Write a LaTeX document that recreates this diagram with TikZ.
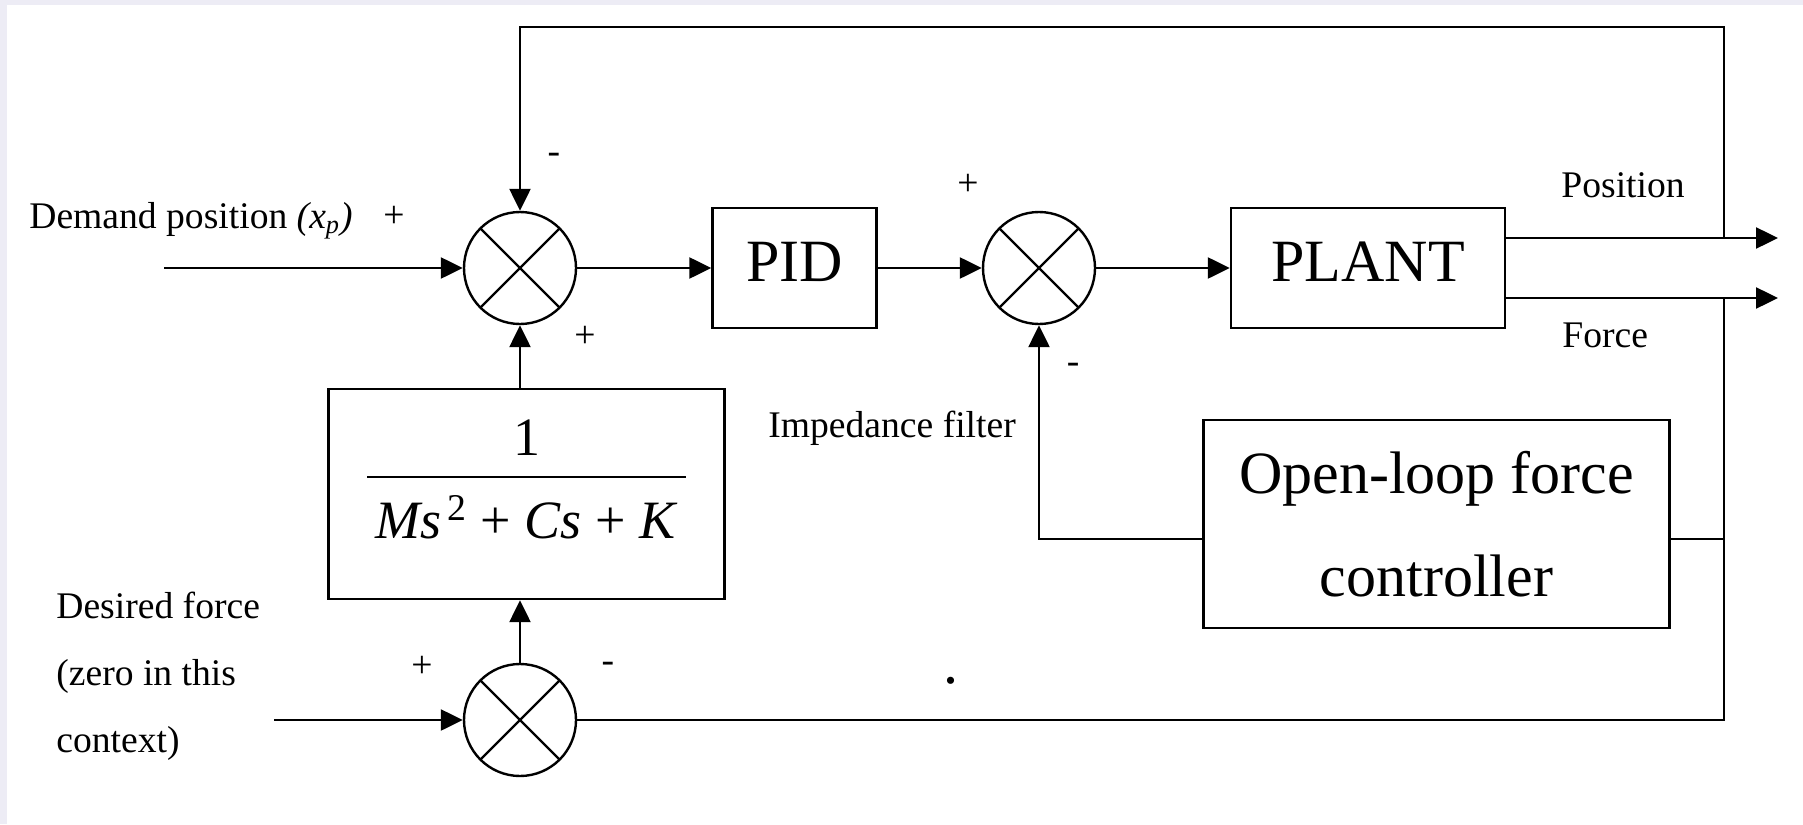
\documentclass[tikz,border=0pt]{standalone}
\usepackage{fontspec}
\setmainfont{Liberation Serif}
\usetikzlibrary{arrows.meta,calc}
\definecolor{pagetint}{HTML}{EDECF5}
\newcommand{\labelfont}{\fontsize{18.8}{33.5}\selectfont}
\newcommand{\blockfont}{\fontsize{30}{51.5}\selectfont}
\newcommand{\fracfont}{\fontsize{27}{34}\selectfont}
\setlength{\arrayrulewidth}{1.3pt}
\tikzset{
  blockbox/.style={
    draw,
    line width=1.2pt,
    inner sep=0pt,
    align=center,
    font=\blockfont
  },
  sumnode/.style={
    draw,
    circle,
    line width=1.2pt,
    minimum size=56pt,
    inner sep=0pt,
    path picture={\draw[line width=1.1pt]
      (path picture bounding box.north west) -- (path picture bounding box.south east)
      (path picture bounding box.north east) -- (path picture bounding box.south west);}
  },
  textlabel/.style={inner sep=0pt,font=\labelfont},
  sigline/.style={line width=1.2pt},
  sigarrow/.style={-{Triangle[length=11pt,width=10.5pt]},line width=1.2pt}
}
\begin{document}
\begin{tikzpicture}[x=0.5pt,y=-0.5pt]
\useasboundingbox (0,0) rectangle (1803,824);
\fill[pagetint] (0,0) rectangle (1803,824);
\fill[white] (7,5) rectangle (1803,824);
\node[sumnode] (sumpos) at (520,268) {};
\node[blockbox,minimum width=82pt,minimum height=60pt,text depth=6pt] (pid) at (794.5,268) {PID};
\node[sumnode] (sumctl) at (1039,268) {};
\node[blockbox,minimum width=137pt,minimum height=60pt,text depth=6pt] (plant) at (1368,268) {PLANT};
\node[blockbox,minimum width=198pt,minimum height=105pt,font=\fracfont] (filter) at (526.5,494)
  {\begin{tabular}{@{\hspace{4pt}}c@{\hspace{4pt}}}1\\\hline\rule{0pt}{30pt}\rule[-21pt]{0pt}{21pt}\textit{Ms}\textsuperscript{\,2} + \textit{Cs} + \textit{K}\end{tabular}};
\node[blockbox,minimum width=233pt,minimum height=104pt] (olc) at (1436.5,524) {Open-loop force\\controller};
\node[sumnode] (sumforce) at (520,720) {};
\coordinate (posin) at (164,268);
\coordinate (forcein) at (274,720);
\coordinate (posout) at (1778,238);
\coordinate (forceout) at (1778,298);
\coordinate (postap) at (1724,238);
\coordinate (forcetap) at (1724,298);
\coordinate (toprail) at (520,27);
\coordinate (botrail) at (1724,720);
\coordinate (olctap) at (1724,539);
\draw[sigarrow] (posin) -- (sumpos);
\draw[sigarrow] (sumpos) -- (pid);
\draw[sigarrow] (pid) -- (sumctl);
\draw[sigarrow] (sumctl) -- (plant);
\draw[sigarrow] (plant.east |- posout) -- (posout);
\draw[sigarrow] (plant.east |- forceout) -- (forceout);
\draw[sigarrow] (postap) |- (toprail) -- (sumpos);
\draw[sigline] (forcetap) -- (botrail) -- (sumforce);
\draw[sigline] (olctap) -- (olc.east |- olctap);
\draw[sigarrow] (olc.west |- olctap) -| (sumctl.south);
\draw[sigarrow] (forcein) -- (sumforce);
\draw[sigarrow] (sumforce) -- (filter.south -| sumforce);
\draw[sigarrow] (filter.north -| sumpos) -- (sumpos);
\node[textlabel,anchor=base west] (dplabel) at (29,228) {Demand position \textit{(x\textsubscript{p})}};
\node[textlabel] (sgnA) at (394,217) {+};
\node[textlabel] (sgnB) at (554,158) {-};
\node[textlabel] (sgnC) at (585,337) {+};
\node[textlabel] (sgnD) at (968,185) {+};
\node[textlabel] (sgnE) at (1073,368) {-};
\node[textlabel] (sgnF) at (422,667) {+};
\node[textlabel] (sgnG) at (608,667) {-};
\node[textlabel,anchor=base west] (filterlabel) at (768,437) {Impedance filter};
\node[textlabel,anchor=base west] (poslabel) at (1561,197) {Position};
\node[textlabel,anchor=base west] (forcelabel) at (1562,347) {Force};
\node[textlabel,anchor=west,align=left] (dflabel) at (56,676) {Desired force\\(zero in this\\context)};
\node[textlabel,font=\blockfont] (stray) at (951,681) {.};
\end{tikzpicture}
\end{document}
